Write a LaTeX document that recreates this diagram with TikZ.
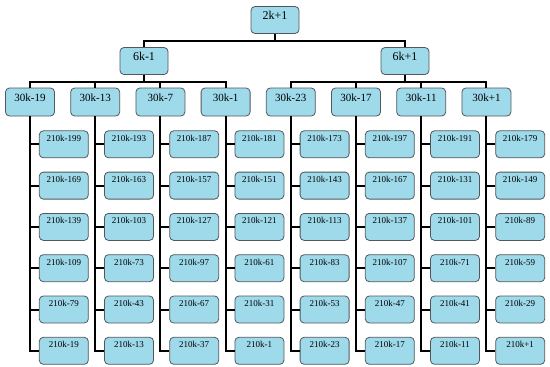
\documentclass[tikz,border=0pt]{standalone}
\usepackage{fontspec}
\setmainfont{Liberation Serif}
\usetikzlibrary{positioning}
\definecolor{boxblue}{RGB}{158,218,234}
\definecolor{boxline}{RGB}{80,88,92}
\begin{document}
\begin{tikzpicture}[x=1pt,y=1pt,node distance=65.2pt,every node/.style={inner sep=0pt}]
\tikzstyle{box}=[draw=boxline,fill=boxblue,rounded corners=4pt,line width=0.8pt,minimum width=48pt]
\tikzstyle{headbox}=[box,minimum height=27pt,font=\fontsize{12}{14}\selectfont,text height=8.5pt,text depth=9.5pt]
\tikzstyle{midbox}=[box,minimum width=49pt,minimum height=28pt,font=\fontsize{11}{13}\selectfont,text height=8pt,text depth=9.6pt]
\tikzstyle{leafbox}=[box,minimum width=49pt,minimum height=27pt,font=\fontsize{9}{11}\selectfont,text height=6.5pt,text depth=12.5pt]
\tikzstyle{conn}=[draw,line width=2pt]
\useasboundingbox (0,0) rectangle (550,-367);

\node[headbox](n00) at (275,-20){2k+1};
\node[headbox](n10) at (144,-61){6k-1};
\node[headbox](n11) at (405,-61){6k+1};

\node[midbox](n20) at (30,-102){30k-19};
\node[midbox,right of=n20](n21){30k-13};
\node[midbox,right of=n21](n22){30k-7};
\node[midbox,right of=n22](n23){30k-1};
\node[midbox,right of=n23](n24){30k-23};
\node[midbox,right of=n24](n25){30k-17};
\node[midbox,right of=n25](n26){30k-11};
\node[midbox,right of=n26](n27){30k+1};

% 30k-19
\node[leafbox,below right=14pt and -16pt of n20](l01){210k-199};
\node[leafbox,below=13.5pt of l01](l02){210k-169};
\node[leafbox,below=13.5pt of l02](l03){210k-139};
\node[leafbox,below=13.5pt of l03](l04){210k-109};
\node[leafbox,below=13.5pt of l04](l05){210k-79};
\node[leafbox,below=13.5pt of l05](l06){210k-19};
% 30k-13
\node[leafbox,below right=14pt and -16pt of n21](l11){210k-193};
\node[leafbox,below=13.5pt of l11](l12){210k-163};
\node[leafbox,below=13.5pt of l12](l13){210k-103};
\node[leafbox,below=13.5pt of l13](l14){210k-73};
\node[leafbox,below=13.5pt of l14](l15){210k-43};
\node[leafbox,below=13.5pt of l15](l16){210k-13};
% 30k-7
\node[leafbox,below right=14pt and -16pt of n22](l21){210k-187};
\node[leafbox,below=13.5pt of l21](l22){210k-157};
\node[leafbox,below=13.5pt of l22](l23){210k-127};
\node[leafbox,below=13.5pt of l23](l24){210k-97};
\node[leafbox,below=13.5pt of l24](l25){210k-67};
\node[leafbox,below=13.5pt of l25](l26){210k-37};
% 30k-1
\node[leafbox,below right=14pt and -16pt of n23](l31){210k-181};
\node[leafbox,below=13.5pt of l31](l32){210k-151};
\node[leafbox,below=13.5pt of l32](l33){210k-121};
\node[leafbox,below=13.5pt of l33](l34){210k-61};
\node[leafbox,below=13.5pt of l34](l35){210k-31};
\node[leafbox,below=13.5pt of l35](l36){210k-1};
% 30k-23
\node[leafbox,below right=14pt and -16pt of n24](l41){210k-173};
\node[leafbox,below=13.5pt of l41](l42){210k-143};
\node[leafbox,below=13.5pt of l42](l43){210k-113};
\node[leafbox,below=13.5pt of l43](l44){210k-83};
\node[leafbox,below=13.5pt of l44](l45){210k-53};
\node[leafbox,below=13.5pt of l45](l46){210k-23};
% 30k-17
\node[leafbox,below right=14pt and -16pt of n25](l51){210k-197};
\node[leafbox,below=13.5pt of l51](l52){210k-167};
\node[leafbox,below=13.5pt of l52](l53){210k-137};
\node[leafbox,below=13.5pt of l53](l54){210k-107};
\node[leafbox,below=13.5pt of l54](l55){210k-47};
\node[leafbox,below=13.5pt of l55](l56){210k-17};
% 30k-11
\node[leafbox,below right=14pt and -16pt of n26](l61){210k-191};
\node[leafbox,below=13.5pt of l61](l62){210k-131};
\node[leafbox,below=13.5pt of l62](l63){210k-101};
\node[leafbox,below=13.5pt of l63](l64){210k-71};
\node[leafbox,below=13.5pt of l64](l65){210k-41};
\node[leafbox,below=13.5pt of l65](l66){210k-11};
% 30k+1
\node[leafbox,below right=14pt and -16pt of n27](l71){210k-179};
\node[leafbox,below=13.5pt of l71](l72){210k-149};
\node[leafbox,below=13.5pt of l72](l73){210k-89};
\node[leafbox,below=13.5pt of l73](l74){210k-59};
\node[leafbox,below=13.5pt of l74](l75){210k-29};
\node[leafbox,below=13.5pt of l75](l76){210k+1};

\path[conn](n00.south)--++(0,-7)-|(n10.north);
\path[conn](n00.south)--++(0,-7)-|(n11.north);

\path[conn](n10.south)--++(0,-7.5)-|(n20.north);
\path[conn](n10.south)--++(0,-7.5)-|(n21.north);
\path[conn](n10.south)--++(0,-7.5)-|(n22.north);
\path[conn](n10.south)--++(0,-7.5)-|(n23.north);
\path[conn](n11.south)--++(0,-7.5)-|(n24.north);
\path[conn](n11.south)--++(0,-7.5)-|(n25.north);
\path[conn](n11.south)--++(0,-7.5)-|(n26.north);
\path[conn](n11.south)--++(0,-7.5)-|(n27.north);

\path[conn](n20.south)|-(l01.west) (n20.south)|-(l02.west) (n20.south)|-(l03.west) (n20.south)|-(l04.west) (n20.south)|-(l05.west) (n20.south)|-(l06.west);
\path[conn](n21.south)|-(l11.west) (n21.south)|-(l12.west) (n21.south)|-(l13.west) (n21.south)|-(l14.west) (n21.south)|-(l15.west) (n21.south)|-(l16.west);
\path[conn](n22.south)|-(l21.west) (n22.south)|-(l22.west) (n22.south)|-(l23.west) (n22.south)|-(l24.west) (n22.south)|-(l25.west) (n22.south)|-(l26.west);
\path[conn](n23.south)|-(l31.west) (n23.south)|-(l32.west) (n23.south)|-(l33.west) (n23.south)|-(l34.west) (n23.south)|-(l35.west) (n23.south)|-(l36.west);
\path[conn](n24.south)|-(l41.west) (n24.south)|-(l42.west) (n24.south)|-(l43.west) (n24.south)|-(l44.west) (n24.south)|-(l45.west) (n24.south)|-(l46.west);
\path[conn](n25.south)|-(l51.west) (n25.south)|-(l52.west) (n25.south)|-(l53.west) (n25.south)|-(l54.west) (n25.south)|-(l55.west) (n25.south)|-(l56.west);
\path[conn](n26.south)|-(l61.west) (n26.south)|-(l62.west) (n26.south)|-(l63.west) (n26.south)|-(l64.west) (n26.south)|-(l65.west) (n26.south)|-(l66.west);
\path[conn](n27.south)|-(l71.west) (n27.south)|-(l72.west) (n27.south)|-(l73.west) (n27.south)|-(l74.west) (n27.south)|-(l75.west) (n27.south)|-(l76.west);
\end{tikzpicture}
\end{document}
